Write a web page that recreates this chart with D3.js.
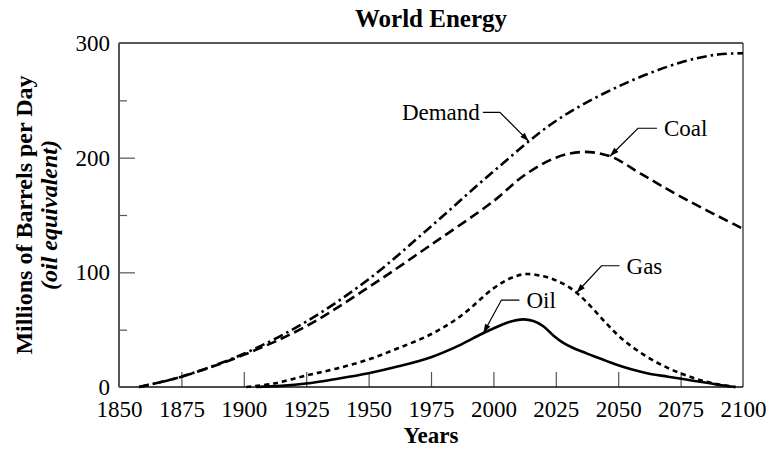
<!DOCTYPE html>
<html>
<head>
<meta charset="utf-8">
<script src="https://cdn.jsdelivr.net/npm/d3@7"></script>
<style>
  html, body { margin: 0; padding: 0; background: #fff; }
  svg { display: block; }
  text { font-family: "Liberation Serif", "Times New Roman", serif; fill: #000; }
</style>
</head>
<body>
<svg id="chart" width="770" height="451"></svg>
<script>
// World energy supply by source and total demand, million barrels/day (oil equivalent)
const demandYears = [1858, 1875, 1900, 1925, 1950, 1975, 2000, 2025, 2050, 2075, 2090, 2100];
const demandValues = [0, 9, 29, 57, 94, 140, 188, 232, 262, 283, 290, 291];

const coalYears = [1858, 1875, 1900, 1925, 1950, 1975, 2000, 2012, 2025, 2036, 2047, 2059, 2075, 2100];
const coalValues = [0, 9, 28, 53, 87, 124, 162, 184, 200, 205, 201, 186, 166, 138];

const gasYears = [1901, 1912, 1925, 1937, 1950, 1962, 1975, 1987, 2000, 2007, 2013, 2020, 2025, 2030, 2035, 2040, 2045, 2050, 2055, 2060, 2065, 2070, 2075, 2080, 2085, 2090, 2097];
const gasValues = [0, 3, 10, 16, 24, 34, 46, 62, 86, 95, 98.5, 96.5, 93, 87.5, 79, 68, 56, 45, 36, 28.5, 22, 16.5, 12, 8, 4.8, 2.3, 0];

const oilYears = [1905, 1915, 1925, 1937, 1950, 1962, 1975, 1987, 1995, 2000, 2006, 2012, 2016, 2020, 2024, 2028, 2032, 2036, 2040, 2045, 2050, 2056, 2062, 2070, 2080, 2090, 2097];
const oilValues = [0, 1, 3, 7, 12, 18, 26, 37, 46, 51, 56.5, 59, 57.5, 53, 45, 38.5, 34, 30.5, 27, 23, 19, 15, 11.8, 9, 5.5, 2, 0];

const xTickValues = [1850, 1875, 1900, 1925, 1950, 1975, 2000, 2025, 2050, 2075, 2100];
const yTickValues = [0, 50, 100, 150, 200, 250, 300];
const yLabelValues = [0, 100, 200, 300];

const svg = d3.select("#chart");
const plot = { left: 119, right: 743, top: 43, bottom: 387 };

const x = d3.scaleLinear().domain([1850, 2100]).range([plot.left, plot.right]);
const y = d3.scaleLinear().domain([0, 300]).range([plot.bottom, plot.top]);

// Title
svg.append("text")
  .attr("x", (plot.left + plot.right) / 2).attr("y", 27)
  .attr("text-anchor", "middle")
  .style("font-size", "25px").style("font-weight", "bold")
  .text("World Energy");

// X axis: ticks point inward, labels underneath
const xAxis = svg.append("g")
  .attr("transform", `translate(0,${plot.bottom})`)
  .call(d3.axisBottom(x).tickValues(xTickValues).tickSize(-15).tickPadding(14).tickFormat(d3.format("d")));
xAxis.select(".domain").remove();
xAxis.selectAll(".tick line")
  .attr("stroke", "#555").attr("stroke-width", 1.2)
  .attr("display", d => (d === 1850 || d === 2100) ? "none" : null);
xAxis.selectAll(".tick text").style("font-size", "23px").style("font-family", "Liberation Serif, serif");

// Y axis: long ticks at hundreds, short ticks at fifties
const yAxis = svg.append("g")
  .attr("transform", `translate(${plot.left},0)`)
  .call(d3.axisLeft(y).tickValues(yTickValues).tickSize(-16).tickPadding(9)
    .tickFormat(d => yLabelValues.includes(d) ? d : ""));
yAxis.select(".domain").remove();
yAxis.selectAll(".tick line")
  .attr("stroke", "#555").attr("stroke-width", 1.2)
  .attr("x2", d => yLabelValues.includes(d) ? 16 : 8)
  .attr("display", d => (d === 0 || d === 300) ? "none" : null);
yAxis.selectAll(".tick text").style("font-size", "23px").style("font-family", "Liberation Serif, serif");

// Frame
svg.append("line").attr("x1", plot.left).attr("x2", plot.right).attr("y1", plot.top).attr("y2", plot.top)
  .attr("stroke", "#222").attr("stroke-width", 1.5);
svg.append("line").attr("x1", plot.right).attr("x2", plot.right).attr("y1", plot.top).attr("y2", plot.bottom)
  .attr("stroke", "#222").attr("stroke-width", 1.2);
svg.append("line").attr("x1", plot.left).attr("x2", plot.right).attr("y1", plot.bottom).attr("y2", plot.bottom)
  .attr("stroke", "#111").attr("stroke-width", 1.5);
svg.append("line").attr("x1", plot.left).attr("x2", plot.left).attr("y1", plot.top).attr("y2", plot.bottom)
  .attr("stroke", "#555").attr("stroke-width", 2);

// Axis titles
svg.append("text")
  .attr("x", (plot.left + plot.right) / 2).attr("y", 443)
  .attr("text-anchor", "middle")
  .style("font-size", "23px").style("font-weight", "bold")
  .text("Years");

const yMid = (plot.top + plot.bottom) / 2;
svg.append("text")
  .attr("transform", `translate(32,${yMid}) rotate(-90)`)
  .attr("text-anchor", "middle")
  .style("font-size", "24px").style("font-weight", "bold")
  .text("Millions of Barrels per Day");
svg.append("text")
  .attr("transform", `translate(57,${yMid}) rotate(-90)`)
  .attr("text-anchor", "middle")
  .style("font-size", "24px").style("font-weight", "bold").style("font-style", "italic")
  .text("(oil equivalent)");

// Series
const series = [
  { name: "Demand", years: demandYears, values: demandValues, dash: "10,4,2.5,4" },
  { name: "Coal", years: coalYears, values: coalValues, dash: "10,5" },
  { name: "Gas", years: gasYears, values: gasValues, dash: "5,4" },
  { name: "Oil", years: oilYears, values: oilValues, dash: null }
];

const line = d3.line()
  .x(d => x(d[0])).y(d => y(d[1]))
  .curve(d3.curveCatmullRom.alpha(0.5));

const paths = {};
series.forEach(s => {
  const pts = s.years.map((yr, i) => [yr, s.values[i]]);
  paths[s.name] = svg.append("path")
    .datum(pts)
    .attr("d", line)
    .attr("fill", "none")
    .attr("stroke", "#000")
    .attr("stroke-width", 2.6)
    .attr("stroke-dasharray", s.dash)
    .node();
});

// Point on a drawn curve at a given pixel x
function pointAtX(pathNode, px) {
  const total = pathNode.getTotalLength();
  let lo = 0, hi = total;
  for (let i = 0; i < 40; i++) {
    const mid = (lo + hi) / 2;
    if (pathNode.getPointAtLength(mid).x < px) lo = mid; else hi = mid;
  }
  return pathNode.getPointAtLength((lo + hi) / 2);
}

// Arrowhead
svg.append("defs").append("marker")
  .attr("id", "arrow")
  .attr("viewBox", "-10 -5 10 10")
  .attr("refX", 0).attr("refY", 0)
  .attr("markerWidth", 10).attr("markerHeight", 10)
  .attr("markerUnits", "userSpaceOnUse")
  .attr("orient", "auto")
  .append("path").attr("d", "M0,0L-9,-3L-9,3Z").attr("fill", "#000");

// Callout labels: tip year on the curve, elbow offset, leader stub, text side
const callouts = [
  { name: "Demand", year: 2014.2, dx: -29, dy: -29, stub: -17, side: "left" },
  { name: "Coal", year: 2046.7, dx: 28, dy: -28, stub: 19, side: "right" },
  { name: "Gas", year: 2033.3, dx: 25, dy: -27, stub: 18, side: "right" },
  { name: "Oil", year: 1996.0, dx: 18, dy: -33, stub: 18, side: "right" }
];

callouts.forEach(c => {
  const tip = pointAtX(paths[c.name], x(c.year));
  const ex = tip.x + c.dx, ey = tip.y + c.dy;
  const sx = ex + c.stub;
  svg.append("path")
    .attr("d", `M${sx},${ey}L${ex},${ey}L${tip.x},${tip.y}`)
    .attr("fill", "none").attr("stroke", "#000").attr("stroke-width", 1.2)
    .attr("marker-end", "url(#arrow)");
  svg.append("text")
    .attr("x", c.side === "left" ? sx - 3 : sx + 7)
    .attr("y", ey + 8)
    .attr("text-anchor", c.side === "left" ? "end" : "start")
    .style("font-size", "23px")
    .text(c.name);
});
</script>
</body>
</html>
